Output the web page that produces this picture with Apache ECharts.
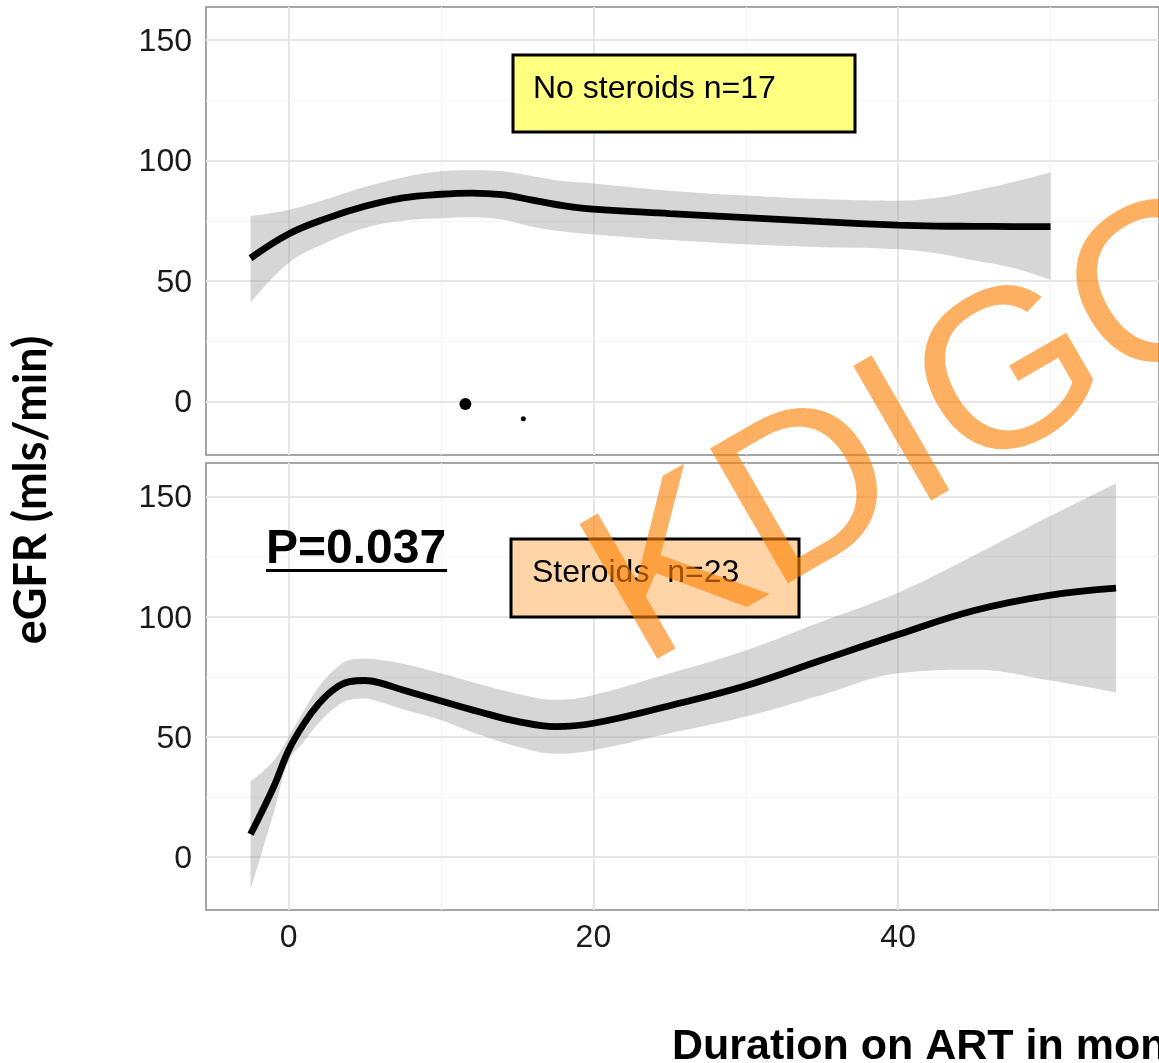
<!DOCTYPE html>
<html>
<head>
<meta charset="utf-8">
<title>eGFR by steroids</title>
<script src="https://cdn.jsdelivr.net/npm/echarts@6/dist/echarts.min.js"></script>
<style>
    html, body { margin: 0; padding: 0; background: #fff; }
    #chart { width: 1159px; height: 1063px; }
</style>
</head>
<body>
<div id="chart"></div>
<script>
(function(window, echarts){
    'use strict';

    // ticks / grid lines
    var xTicks = [0, 20, 40];
    var xMinor = [10, 30, 50];
    var yTicks = [0, 50, 100, 150];
    var yMinor = [25, 75, 125];

    // no steroids panel (loess fit + 95% band)
    var xTop   = [-2.5, 0, 2.5, 5, 7.5, 10, 12, 14, 16, 18, 20, 25, 30, 35, 40, 42.5, 45, 47.5, 50];
    var fitTop = [59.5, 69.5, 76, 81, 84.5, 86, 86.5, 85.8, 83.6, 81.3, 79.8, 78, 76.3, 74.6, 73.2, 72.8, 72.7, 72.6, 72.6];
    var loTop  = [41, 57.5, 66, 72, 75, 76, 76.5, 75.5, 72.5, 70.5, 69.3, 67, 65.2, 64, 63.2, 61.5, 58.5, 55.5, 50.5];
    var hiTop  = [77, 79.5, 84, 89, 93, 95.5, 96, 95.5, 93.5, 91.5, 90.5, 87.5, 85.5, 84, 83.3, 84.5, 87.5, 91, 95];
    var ptsTop = [[11.6, -1], [15.4, -7.2]];

    // steroids panel
    var xBot   = [-2.5, -1, 0, 1, 2, 3, 4, 5, 6, 7.5, 10, 12.5, 15, 17.5, 20, 25, 30, 35, 40, 45, 50, 54.3];
    var fitBot = [9.5, 29, 44.5, 55.5, 64, 70, 73, 73.5, 72.5, 69.5, 65, 60.5, 56.5, 54.3, 55.7, 63, 71.3, 82, 92.6, 102.6, 109, 111.9];
    var loBot  = [-13.5, 18, 40, 48, 56, 62, 65.5, 66, 64.5, 61.5, 57, 51, 46, 43, 44.5, 51.5, 58.5, 67.5, 76.5, 78, 73.5, 68.5];
    var hiBot  = [31.5, 40, 50, 61, 71, 78, 82, 82.5, 82, 80.5, 76.5, 72, 68, 65.5, 67.5, 76.5, 86, 98, 110, 125.6, 142, 155.5];

    var xMin = -5.425, xMax = 57.12;
    var ink = '#1a1a1a';
    var sans = '"Liberation Sans", Arial, sans-serif';

    function zip(xs, ys) {
        return xs.map(function(x, i) { return [x, ys[i]]; });
    }
    // y first, so the stack works on y (both axes are value axes)
    function zipYX(xs, ys) {
        return xs.map(function(x, i) { return [ys[i], x]; });
    }
    function diff(hi, lo) {
        return hi.map(function(v, i) { return v - lo[i]; });
    }

    // ggplot style grid lines, drawn through the axes
    function gridLines() {
        var major = { color: '#e6e6e6', width: 2, type: 'solid' };
        var minor = { color: '#f4f4f4', width: 1.2, type: 'solid' };
        var out = [];
        xMinor.forEach(function(v) { out.push({ xAxis: v, lineStyle: minor }); });
        yMinor.forEach(function(v) { out.push({ yAxis: v, lineStyle: minor }); });
        xTicks.forEach(function(v) { out.push({ xAxis: v, lineStyle: major }); });
        yTicks.forEach(function(v) { out.push({ yAxis: v, lineStyle: major }); });
        return {
            silent: true,
            z: 1,
            symbol: ['none', 'none'],
            label: { show: false },
            emphasis: { disabled: true },
            data: out
        };
    }

    function panelSeries(idx, xs, fit, lo, hi) {
        var stack = 'band' + idx;
        return [
            {
                type: 'line', xAxisIndex: idx, yAxisIndex: idx,
                data: zipYX(xs, lo), encode: { x: 1, y: 0 },
                stack: stack, stackStrategy: 'all', smooth: 0.4,
                symbol: 'none', lineStyle: { opacity: 0 },
                markLine: gridLines()
            },
            {
                type: 'line', xAxisIndex: idx, yAxisIndex: idx,
                data: zipYX(xs, diff(hi, lo)), encode: { x: 1, y: 0 },
                stack: stack, stackStrategy: 'all', smooth: 0.4,
                symbol: 'none', lineStyle: { opacity: 0 },
                areaStyle: { color: 'rgba(153,153,153,0.4)', opacity: 1 }
            },
            {
                type: 'line', xAxisIndex: idx, yAxisIndex: idx, z: 3,
                data: zip(xs, fit), smooth: 0.4, symbol: 'none',
                lineStyle: { color: '#000', width: 6.8 }
            }
        ];
    }

    function yAxis(idx, min, max) {
        return {
            type: 'value', gridIndex: idx, min: min, max: max,
            axisLine: { show: false },
            splitLine: { show: false },
            axisTick: { show: true, customValues: yTicks, length: 9, lineStyle: { color: '#333', width: 1.5 } },
            axisLabel: {
                customValues: yTicks, margin: 14,
                verticalAlign: 'top', padding: [-14, 0, 0, 0],
                color: ink, fontSize: 32, fontFamily: sans
            }
        };
    }

    var chart = echarts.init(document.getElementById('chart'));

    var series = panelSeries(0, xTop, fitTop, loTop, hiTop)
        .concat(panelSeries(1, xBot, fitBot, loBot, hiBot));
    series.push({
        type: 'scatter', xAxisIndex: 0, yAxisIndex: 0, z: 4,
        data: ptsTop,
        symbolSize: function(v, p) { return p.dataIndex === 0 ? 12 : 5; },
        itemStyle: { color: '#000', opacity: 1 }
    });

    chart.setOption({
        animation: false,
        backgroundColor: '#fff',
        grid: [
            { left: 206, right: -4, top: 7, height: 448, show: true, borderColor: '#888', borderWidth: 1.5, backgroundColor: '#fff' },
            { left: 206, right: -4, top: 463, height: 447, show: true, borderColor: '#888', borderWidth: 1.5, backgroundColor: '#fff' }
        ],
        xAxis: [
            {
                type: 'value', gridIndex: 0, min: xMin, max: xMax,
                axisLine: { show: false }, axisTick: { show: false },
                axisLabel: { show: false }, splitLine: { show: false }
            },
            {
                type: 'value', gridIndex: 1, min: xMin, max: xMax,
                axisLine: { show: false }, splitLine: { show: false },
                axisTick: { show: true, customValues: xTicks, length: 9, lineStyle: { color: '#333', width: 1.5 } },
                axisLabel: { customValues: xTicks, margin: 12, color: ink, fontSize: 32, fontFamily: sans }
            }
        ],
        yAxis: [
            yAxis(0, -22.2, 163.7),
            yAxis(1, -22, 164)
        ],
        series: series,
        graphic: [
            {
                type: 'rect', z: 10,
                shape: { x: 513, y: 55, width: 342, height: 77 },
                style: { fill: '#ffff80', stroke: '#000', lineWidth: 3 }
            },
            {
                type: 'text', z: 11, x: 533, y: 89,
                style: { text: 'No steroids n=17', font: '32px ' + sans, fill: '#000', verticalAlign: 'middle' }
            },
            {
                type: 'rect', z: 10,
                shape: { x: 511, y: 539, width: 288, height: 78 },
                style: { fill: '#ffd5a8', stroke: '#000', lineWidth: 3 }
            },
            {
                type: 'text', z: 11, x: 532, y: 573,
                style: { text: 'Steroids  n=23', font: '32px ' + sans, fill: '#000', verticalAlign: 'middle' }
            },
            {
                type: 'text', z: 11, x: 266, y: 550,
                style: { text: 'P=0.037', font: 'bold 48px ' + sans, fill: '#000', verticalAlign: 'middle' }
            },
            {
                type: 'rect', z: 11,
                shape: { x: 266, y: 569, width: 181, height: 3 },
                style: { fill: '#000' }
            },
            {
                type: 'text', z: 11, x: 672, y: 1047,
                style: { text: 'Duration on ART in months', font: 'bold 43px ' + sans, fill: '#000', verticalAlign: 'middle' }
            },
            {
                type: 'text', z: 11, x: 31, y: 490, rotation: Math.PI / 2,
                style: { text: 'eGFR (mls/min)', font: 'bold 45px Lato, "Open Sans", sans-serif', fill: '#000', align: 'center', verticalAlign: 'middle' }
            },
            {
                // watermark
                type: 'text', z: 20, x: 610, y: 614, rotation: Math.PI / 6, silent: true,
                style: { text: 'KDIGO', font: '226px ' + sans, fill: 'rgba(252,128,0,0.62)', verticalAlign: 'middle' }
            }
        ]
    });

})(window, window.echarts);
</script>
</body>
</html>
